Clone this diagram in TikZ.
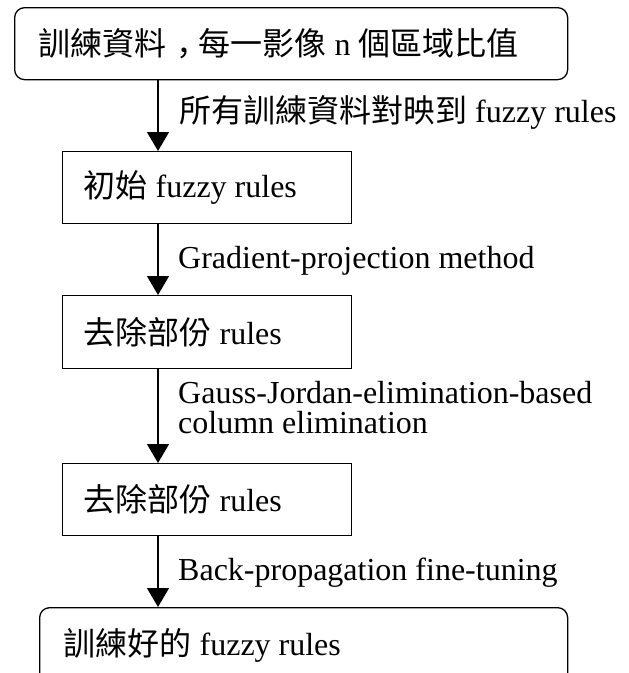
\documentclass[tikz,border=0pt]{standalone}
\usepackage{fontspec}
\setmainfont{Liberation Serif}
\newfontfamily\cjkfont{Noto Sans CJK TC}
\newfontfamily\cjkscfont{Noto Sans CJK SC}
\usetikzlibrary{arrows.meta}
\newcommand\latsize{\fontsize{32pt}{36pt}\selectfont}
\newcommand\zh[1]{{\cjkfont #1}}
\newcommand\zhcomma{{\cjkscfont\kern0.3em ，\kern-0.3em}}
\begin{document}
\begin{tikzpicture}[x=1pt,y=-1pt,
  box/.style={draw, line width=1.3pt, inner ysep=0pt, anchor=north west, font=\latsize},
  rbox/.style={box, rounded corners=10pt},
  lab/.style={anchor=base west, inner sep=0pt, font=\latsize},
  arr/.style={line width=1.3pt, -{Triangle[width=22pt,length=19pt]}}]
\useasboundingbox (0,0) rectangle (629,673);
\fill[white] (0,0) rectangle (629,673);

\node[rbox, inner xsep=24pt, minimum height=72pt] (top) at (14,7)
  {\makebox[505pt][l]{\zh{訓練資料}\zhcomma\zh{每一影像} n \zh{個區域比值}}};
\node[box, inner xsep=21pt, minimum height=72pt] (b2) at (62,151)
  {\makebox[247pt][l]{\zh{初始} fuzzy rules}};
\node[box, inner xsep=21pt, minimum height=73pt] (b3) at (62,295)
  {\makebox[247pt][l]{\zh{去除部份} rules}};
\node[box, inner xsep=21pt, minimum height=72pt] (b4) at (62,463)
  {\makebox[247pt][l]{\zh{去除部份} rules}};
\node[rbox, inner xsep=24pt, minimum height=76pt] (b5) at (39,607)
  {\makebox[480pt][l]{\zh{訓練好的} fuzzy rules}};

\coordinate (ax) at (158,0);
\draw[arr] (top.south -| ax) -- (b2.north -| ax);
\draw[arr] (b2.south -| ax) -- (b3.north -| ax);
\draw[arr] (b3.south -| ax) -- (b4.north -| ax);
\draw[arr] (b4.south -| ax) -- (b5.north -| ax);

\node[lab] (l1) at (179,122) {\zh{所有訓練資料對映到} fuzzy rules};
\node[lab] (l2) at (178,268) {Gradient-projection method};
\node[lab] (l3) at (178,403) {\vtop{\baselineskip=30pt\hbox{Gauss-Jordan-elimination-based}\hbox{column elimination}}};
\node[lab] (l4) at (178,580) {Back-propagation fine-tuning};
\end{tikzpicture}
\end{document}
